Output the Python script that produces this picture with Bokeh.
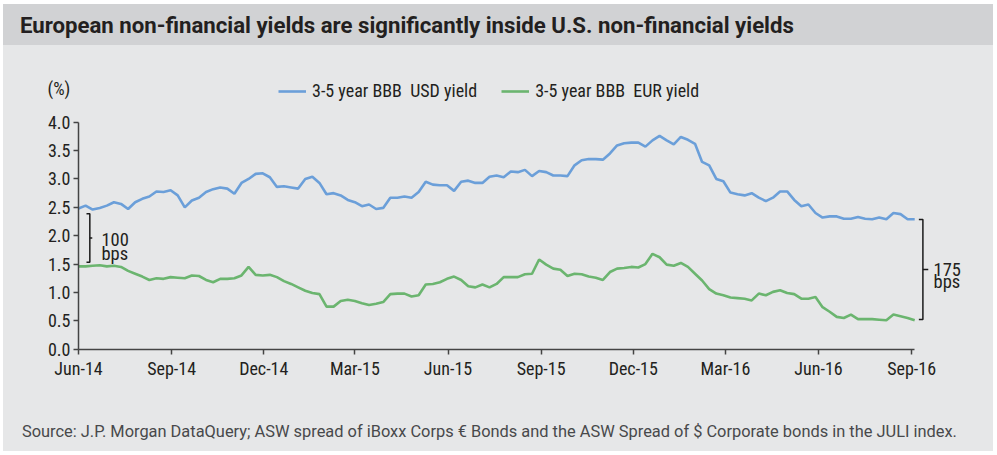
import pandas as pd
from bokeh.plotting import figure
from bokeh.models import (FixedTicker, DatetimeTickFormatter, PrintfTickFormatter,
                          Legend, LegendItem, Label, Div, Range1d)
from bokeh.layouts import column
from bokeh.embed import file_html
from bokeh.resources import INLINE

# ---------------- data ----------------
title_text = "European non-financial yields are significantly inside U.S. non-financial yields"
source_text = ("Source: J.P. Morgan DataQuery; ASW spread of iBoxx Corps \u20ac Bonds and the "
               "ASW Spread of $ Corporate bonds in the JULI index.")
unit_label = "(%)"
series_names = ["3-5 year BBB  USD yield", "3-5 year BBB  EUR yield"]
start_date = "2014-06-01"   # weekly observations from here

usd_yield = [2.48, 2.53, 2.46, 2.49, 2.53, 2.59, 2.56, 2.47, 2.59, 2.65,
             2.69, 2.78, 2.77, 2.80, 2.71, 2.50, 2.62, 2.67, 2.77, 2.82,
             2.85, 2.83, 2.74, 2.93, 3.00, 3.09, 3.10, 3.03, 2.86, 2.87,
             2.85, 2.83, 3.00, 3.04, 2.93, 2.73, 2.75, 2.71, 2.63, 2.59,
             2.52, 2.55, 2.47, 2.49, 2.67, 2.67, 2.69, 2.67, 2.77, 2.95,
             2.90, 2.89, 2.89, 2.79, 2.95, 2.97, 2.93, 2.93, 3.04, 3.06,
             3.03, 3.13, 3.12, 3.16, 3.05, 3.14, 3.12, 3.06, 3.06, 3.05,
             3.24, 3.33, 3.35, 3.35, 3.34, 3.45, 3.59, 3.63, 3.64, 3.64,
             3.57, 3.68, 3.76, 3.68, 3.61, 3.74, 3.69, 3.62, 3.30, 3.24,
             3.00, 2.96, 2.76, 2.73, 2.71, 2.75, 2.67, 2.61, 2.67, 2.78,
             2.78, 2.63, 2.52, 2.55, 2.40, 2.32, 2.34, 2.34, 2.30, 2.30,
             2.33, 2.30, 2.29, 2.32, 2.29, 2.40, 2.38, 2.29, 2.29]

eur_yield = [1.46, 1.46, 1.47, 1.48, 1.46, 1.47, 1.45, 1.38, 1.33, 1.28,
             1.22, 1.25, 1.24, 1.27, 1.26, 1.25, 1.30, 1.29, 1.22, 1.18,
             1.24, 1.24, 1.25, 1.30, 1.45, 1.31, 1.30, 1.31, 1.27, 1.20,
             1.15, 1.09, 1.03, 0.99, 0.97, 0.75, 0.75, 0.85, 0.87, 0.85,
             0.81, 0.78, 0.80, 0.83, 0.97, 0.98, 0.98, 0.93, 0.95, 1.14,
             1.15, 1.18, 1.24, 1.28, 1.22, 1.11, 1.09, 1.14, 1.09, 1.15,
             1.27, 1.27, 1.27, 1.32, 1.33, 1.58, 1.49, 1.42, 1.40, 1.29,
             1.33, 1.32, 1.28, 1.26, 1.22, 1.36, 1.42, 1.43, 1.45, 1.44,
             1.50, 1.68, 1.62, 1.49, 1.47, 1.52, 1.45, 1.33, 1.21, 1.06,
             0.98, 0.95, 0.91, 0.90, 0.89, 0.86, 0.98, 0.95, 1.01, 1.04,
             0.99, 0.97, 0.89, 0.89, 0.92, 0.74, 0.66, 0.57, 0.55, 0.61,
             0.53, 0.53, 0.53, 0.52, 0.51, 0.61, 0.58, 0.55, 0.51]

x_tick_dates = ["2014-06-01", "2014-09-01", "2014-12-01", "2015-03-01", "2015-06-01",
                "2015-09-01", "2015-12-01", "2016-03-01", "2016-06-01", "2016-09-01"]
y_ticks = [0.0, 0.5, 1.0, 1.5, 2.0, 2.5, 3.0, 3.5, 4.0]
gap_labels = [("100", "bps"), ("175", "bps")]

# ---------------- styling ----------------
PANEL = "#e6e7e8"
BAR = "#d1d2d4"
INK = "#231f20"
BLUE = "#6b9fd9"
GREEN = "#6bb56f"
FONT = "Roboto Condensed"

dates = pd.date_range(start_date, periods=len(usd_yield), freq="7D")
t0 = pd.Timestamp(start_date)
day = pd.Timedelta(days=1)

p = figure(width=990, height=375, x_axis_type="datetime",
           x_range=Range1d(t0 - 34.57 * day, t0 + 898.9 * day),
           y_range=Range1d(-0.5515, 5.2634),
           output_backend="svg", toolbar_location=None,
           min_border_left=40, min_border_right=5,
           min_border_top=5, min_border_bottom=40)
p.background_fill_alpha = 0
p.border_fill_alpha = 0
p.outline_line_color = None
p.xgrid.grid_line_color = None
p.ygrid.grid_line_color = None

r_usd = p.line(dates, usd_yield, line_color=BLUE, line_width=2.6)
r_eur = p.line(dates, eur_yield, line_color=GREEN, line_width=2.6)

# axes, pinned at the data origin
xa = p.xaxis[0]
xa.ticker = FixedTicker(ticks=[pd.Timestamp(d).value / 1e6 for d in x_tick_dates])
xa.formatter = DatetimeTickFormatter(days="%b-%y", months="%b-%y", years="%b-%y")
xa.bounds = (t0, pd.Timestamp("2016-09-04"))
xa.fixed_location = 0
ya = p.yaxis[0]
ya.ticker = FixedTicker(ticks=y_ticks)
ya.formatter = PrintfTickFormatter(format="%.1f")
ya.bounds = (0, 4.0)
ya.fixed_location = t0.value / 1e6
for ax in (xa, ya):
    ax.axis_line_color = "#444444"
    ax.axis_line_width = 1.5
    ax.major_tick_line_color = "#444444"
    ax.major_tick_line_width = 1.5
    ax.major_tick_out = 5
    ax.major_tick_in = 0
    ax.minor_tick_line_color = None
    ax.major_label_text_font = FONT
    ax.major_label_text_font_size = "18px"
    ax.major_label_text_color = INK
xa.major_label_standoff = 4
ya.major_label_standoff = 3

# legend
legend = Legend(items=[LegendItem(label=series_names[0], renderers=[r_usd]),
                       LegendItem(label=series_names[1], renderers=[r_eur])],
                orientation="horizontal", location=(235, 279),
                border_line_color=None, background_fill_alpha=0,
                padding=0, margin=0, spacing=24, label_standoff=6,
                glyph_width=28, glyph_height=20,
                label_text_font=FONT, label_text_font_size="18px",
                label_text_color=INK)
p.add_layout(legend, "center")

# brackets (annotation positions in data space)
def bracket(d_tick, d_bar, d_mid, top, bottom):
    x_tick = t0 + d_tick * day
    x_bar = t0 + d_bar * day
    x_mid = t0 + d_mid * day
    mid = (top + bottom) / 2
    p.line([x_tick, x_bar, x_bar, x_tick], [top, top, bottom, bottom],
           line_color="#1a1a1a", line_width=1.5)
    p.line([x_bar, x_mid], [mid, mid], line_color="#1a1a1a", line_width=1.5)

bracket(7.9, 11.2, 13.6, 2.388, 1.534)
bracket(830.1, 834.1, 839.4, 2.287, 0.524)

def side_text(d, yv, txt, size, baseline="alphabetic"):
    p.add_layout(Label(x=t0 + d * day, y=yv, text=txt, text_font=FONT,
                       text_font_size=size, text_color=INK,
                       text_align="left", text_baseline=baseline))

side_text(22.7, 1.93, gap_labels[0][0], "18.5px")
side_text(22.7, 1.68, gap_labels[0][1], "18.5px")
side_text(844.6, 1.406, gap_labels[1][0], "18.5px")
side_text(844.6, 1.185, gap_labels[1][1], "18.5px")
side_text(-30.6, 4.594, unit_label, "18px", "middle")

title_div = Div(text=('<div style="font-family:Roboto,sans-serif;'
                      'font-weight:bold;font-size:22.2px;color:%s;line-height:43px;'
                      'padding-left:17px;white-space:nowrap">%s</div>') % (INK, title_text),
                width=990, height=41, margin=(0, 0, 0, 0),
                styles={"background-color": BAR})
source_div = Div(text=('<div style="font-family:Roboto,sans-serif;font-size:16.4px;'
                       'color:#48494b;line-height:24px;padding-left:19px;'
                       'white-space:nowrap">%s</div>') % source_text,
                 width=990, height=31, margin=(0, 0, 0, 0))

layout = column(title_div, p, source_div, spacing=0, margin=(4, 0, 0, 3),
                styles={"background-color": PANEL})
open("out.html", "w").write(file_html(layout, INLINE))
